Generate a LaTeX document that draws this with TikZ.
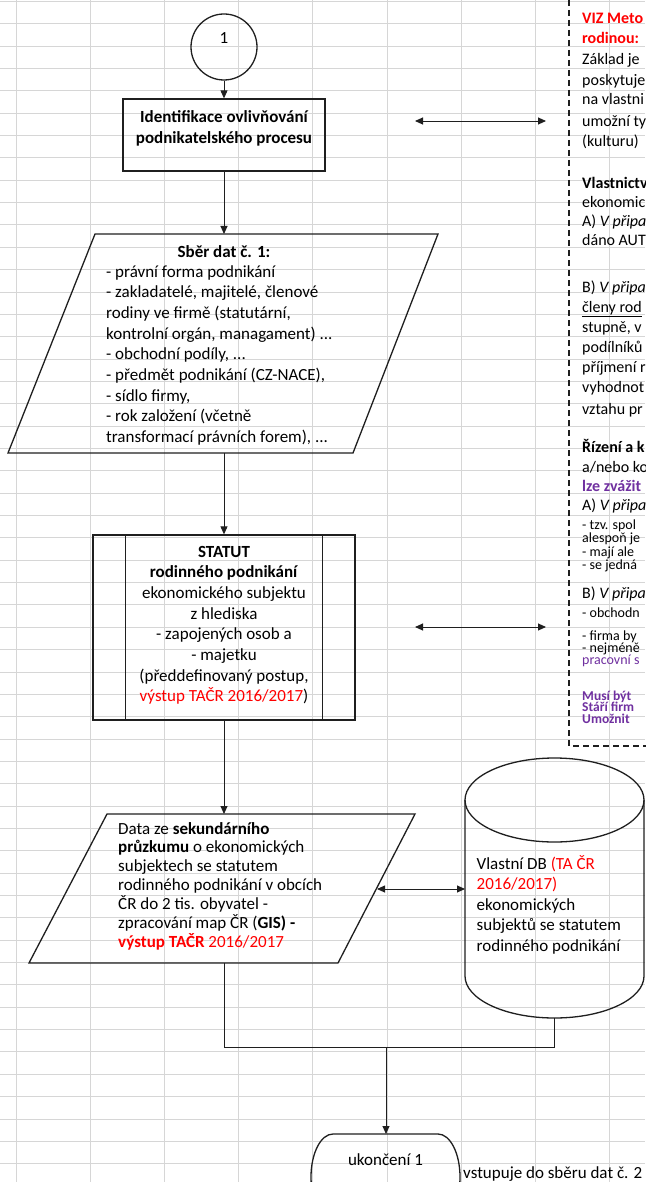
\documentclass[tikz,border=0pt]{standalone}
\usepackage{fontspec}
\setmainfont{Carlito}
\usetikzlibrary{arrows.meta}
\definecolor{xred}{HTML}{FF0000}
\definecolor{xpurple}{HTML}{7030A0}
\definecolor{gridc}{HTML}{D6D6D6}
\definecolor{linec}{HTML}{1F1F1F}
\begin{document}
\begin{tikzpicture}[x=1pt,y=-1pt,
  gridline/.style={draw=gridc,line width=1pt},
  shapeline/.style={draw=linec,line width=1.3pt},
  conn/.style={draw=linec,line width=0.9pt,-{Triangle[length=8pt,width=7pt]}},
  dconn/.style={draw=linec,line width=0.9pt,{Triangle[length=8pt,width=7pt]}-{Triangle[length=8pt,width=7pt]}},
  plainline/.style={draw=linec,line width=0.9pt},
  txt/.style={inner sep=0pt,font=\fontsize{17}{20.7}\selectfont},
  ptxt/.style={inner sep=0pt,anchor=base west,font=\fontsize{16}{20}\selectfont},
  stxt/.style={inner sep=0pt,anchor=base west,font=\fontsize{14}{14}\selectfont},
  sbtxt/.style={inner sep=0pt,anchor=base west,text=xpurple,font=\bfseries\fontsize{13.5}{13.5}\selectfont},
  panelline/.style={draw=linec,line width=1.3pt,dash pattern=on 6pt off 4pt}
]
\useasboundingbox (0,0) rectangle (645,1182);
\fill[white] (0,0) rectangle (645,1182);
% spreadsheet grid
\foreach \i in {0,...,8} \draw[gridline] ({16.5+74.1*\i},0) -- ({16.5+74.1*\i},1182);
\foreach \j in {0,...,52} \draw[gridline] (0,{1.5+22.35*\j}) -- (645,{1.5+22.35*\j});

% start circle
\node[shapeline,circle,minimum size=66pt,inner sep=0pt] (start) at (224,47) {};
\node[txt,anchor=base] (t1) at (224,44) {1};

% identification box
\node[shapeline,rectangle,minimum width=202pt,minimum height=72pt,inner sep=0pt] (ident) at (224,135) {};
\node[txt,align=center,anchor=base,font=\bfseries\fontsize{17}{21}\selectfont] (identtext) at (224,143.5) {Identifikace ovlivňování\\podnikatelského procesu};
\draw[conn] (start) -- (ident);

% double arrows toward panel
\coordinate (a1l) at (415,121);
\coordinate (a1r) at (546,121);
\draw[dconn] (a1l) -- (a1r);
\coordinate (a2l) at (415,627);
\coordinate (a2r) at (546,627);
\draw[dconn] (a2l) -- (a2r);

% data collection parallelogram
\draw[shapeline] (95,234) coordinate (sberTL) -- (438,234) coordinate (sberTR) -- (353,453) coordinate (sberBR) -- (8,453) coordinate (sberBL) -- cycle;
\coordinate (sberTop) at (224,234);
\coordinate (sberBot) at (224,453);
\draw[conn] (ident) -- (sberTop);
\node[txt,anchor=base,font=\bfseries\fontsize{17}{20.7}\selectfont] (sbertitle) at (224,257) {Sběr dat č. 1:};
\node[txt,align=left,anchor=base west] (sberbody) at (106,442.6) {- právní forma podnikání\\- zakladatelé, majitelé, členové\\rodiny ve firmě (statutární,\\kontrolní orgán, managament) ...\\- obchodní podíly, ...\\- předmět podnikání (CZ-NACE),\\- sídlo firmy,\\- rok založení (včetně\\transformací právních forem), ...};

% statut box
\node[shapeline,rectangle,minimum width=262pt,minimum height=185pt,inner sep=0pt] (statut) at (224,627.5) {};
\draw[shapeline] ([xshift=33pt]statut.north west) -- ([xshift=33pt]statut.south west);
\draw[shapeline] ([xshift=-33pt]statut.north east) -- ([xshift=-33pt]statut.south east);
\draw[conn] (sberBot) -- (statut);
\node[txt,align=center,anchor=base] (statuttext) at (224,701.9) {\textbf{STATUT}\\\textbf{rodinného podnikání}\\ekonomického subjektu\\z hlediska\\- zapojených osob a\\- majetku\\(předdefinovaný postup,\\\textcolor{xred}{výstup TAČR 2016/2017})};

% secondary data parallelogram
\draw[shapeline] (107,814) coordinate (dataTL) -- (415,814) coordinate (dataTR) -- (338,963) coordinate (dataBR) -- (29,963) coordinate (dataBL) -- cycle;
\coordinate (dataTop) at (224,814);
\coordinate (dataBot) at (224,963);
\coordinate (dataR) at (377,889);
\draw[conn] (statut) -- (dataTop);
\node[txt,align=left,anchor=base west,font=\fontsize{17}{18.9}\selectfont] (datatext) at (118,947.4) {Data ze \textbf{sekundárního}\\\textbf{průzkumu} o ekonomických\\subjektech se statutem\\rodinného podnikání v obcích\\ČR do 2 tis. obyvatel -\\zpracování map ČR (\textbf{GIS) -}\\\textcolor{xred}{\textbf{výstup TAČR} 2016/2017}};

% database cylinder
\draw[shapeline] (554.5,800) ellipse [x radius=89.5, y radius=42];
\draw[shapeline] (465,800) -- (465,976) arc[start angle=180, end angle=0, x radius=89.5, y radius=42] -- (644,800);
\coordinate (dbL) at (465,889);
\coordinate (dbBot) at (554.5,1018);
\draw[dconn] (dataR) -- (dbL);
\node[txt,align=left,anchor=base west,font=\fontsize{17}{20.5}\selectfont] (dbtext) at (476.5,951) {Vlastní DB \textcolor{xred}{(TA ČR}\\\textcolor{xred}{2016/2017)}\\ekonomických\\subjektů se statutem\\rodinného podnikání};

% merge and end
\coordinate (j1) at (224,1047);
\coordinate (j2) at (554.5,1047);
\coordinate (jm) at (386,1047);
\draw[plainline] (dataBot) -- (j1) -- (j2) -- (dbBot);
\draw[shapeline] (333,1134) -- (438,1134) arc[start angle=-90, end angle=90, x radius=22, y radius=43] -- (333,1220) arc[start angle=90, end angle=270, x radius=22, y radius=43] -- cycle;
\coordinate (endTop) at (386,1134);
\draw[conn] (jm) -- (endTop);
\node[txt,anchor=base] (endtext) at (385.5,1165) {ukončení 1};
\node[txt,anchor=base west] (note) at (463,1178) {vstupuje do sběru dat č. 2};

% dashed side panel
\coordinate (pnlTop) at (569,0);
\coordinate (pnlCorner) at (569,746);
\coordinate (pnlRight) at (650,746);
\draw[panelline] (pnlTop) -- (pnlCorner) -- (pnlRight);
\node[ptxt,text=xred,font=\bfseries\fontsize{16}{20}\selectfont] (p1) at (582,23.5) {VIZ Meto};
\node[ptxt,text=xred,font=\bfseries\fontsize{16}{20}\selectfont] (p2) at (582,44) {rodinou:};
\node[ptxt] (p3) at (582,65) {Základ je};
\node[ptxt] (p4) at (582,85.5) {poskytuje};
\node[ptxt] (p5) at (582,105) {na vlastni};
\node[ptxt] (p6) at (582,126.5) {umožní ty};
\node[ptxt] (p7) at (582,147) {(kulturu)};
\node[ptxt,font=\bfseries\fontsize{16}{20}\selectfont] (p8) at (582,189) {Vlastnictv};
\node[ptxt] (p9) at (582,208) {ekonomic};
\node[ptxt] (p10) at (582,227) {A) \textit{V připa}};
\node[ptxt] (p11) at (582,245) {dáno AUT};
\node[ptxt] (p12) at (582,292) {B) \textit{V připa}};
\node[ptxt] (p13) at (582,312) {\underline{členy rod}};
\node[ptxt] (p14) at (582,332) {stupně, v};
\node[ptxt] (p15) at (582,352) {podílníků};
\node[ptxt] (p16) at (582,372) {příjmení r};
\node[ptxt] (p17) at (582,392) {vyhodnot};
\node[ptxt] (p18) at (582,414) {vztahu pr};
\node[ptxt,font=\bfseries\fontsize{16}{20}\selectfont] (p19) at (582,452) {Řízení a k};
\node[ptxt] (p20) at (582,472) {a/nebo ko};
\node[ptxt,text=xpurple,font=\bfseries\fontsize{16}{20}\selectfont] (p21) at (582,491) {lze zvážit};
\node[ptxt] (p22) at (582,510) {A) \textit{V připa}};
\node[stxt] (p23) at (582,529) {- tzv. spol};
\node[stxt] (p24) at (582,542) {alespoň je};
\node[stxt] (p25) at (582,556) {- mají ale};
\node[stxt] (p26) at (582,569) {- se jedná};
\node[ptxt] (p27) at (582,598) {B) \textit{V připa}};
\node[stxt] (p28) at (582,617.5) {- obchodn};
\node[stxt] (p29) at (582,640) {- firma by};
\node[stxt] (p30) at (582,652) {- nejméně};
\node[stxt,text=xpurple] (p31) at (582,664) {pracovní s};
\node[sbtxt] (p32) at (582,700) {Musí být};
\node[sbtxt] (p33) at (582,711.5) {Stáří firm};
\node[sbtxt] (p34) at (582,723) {Umožnit};
\end{tikzpicture}
\end{document}
